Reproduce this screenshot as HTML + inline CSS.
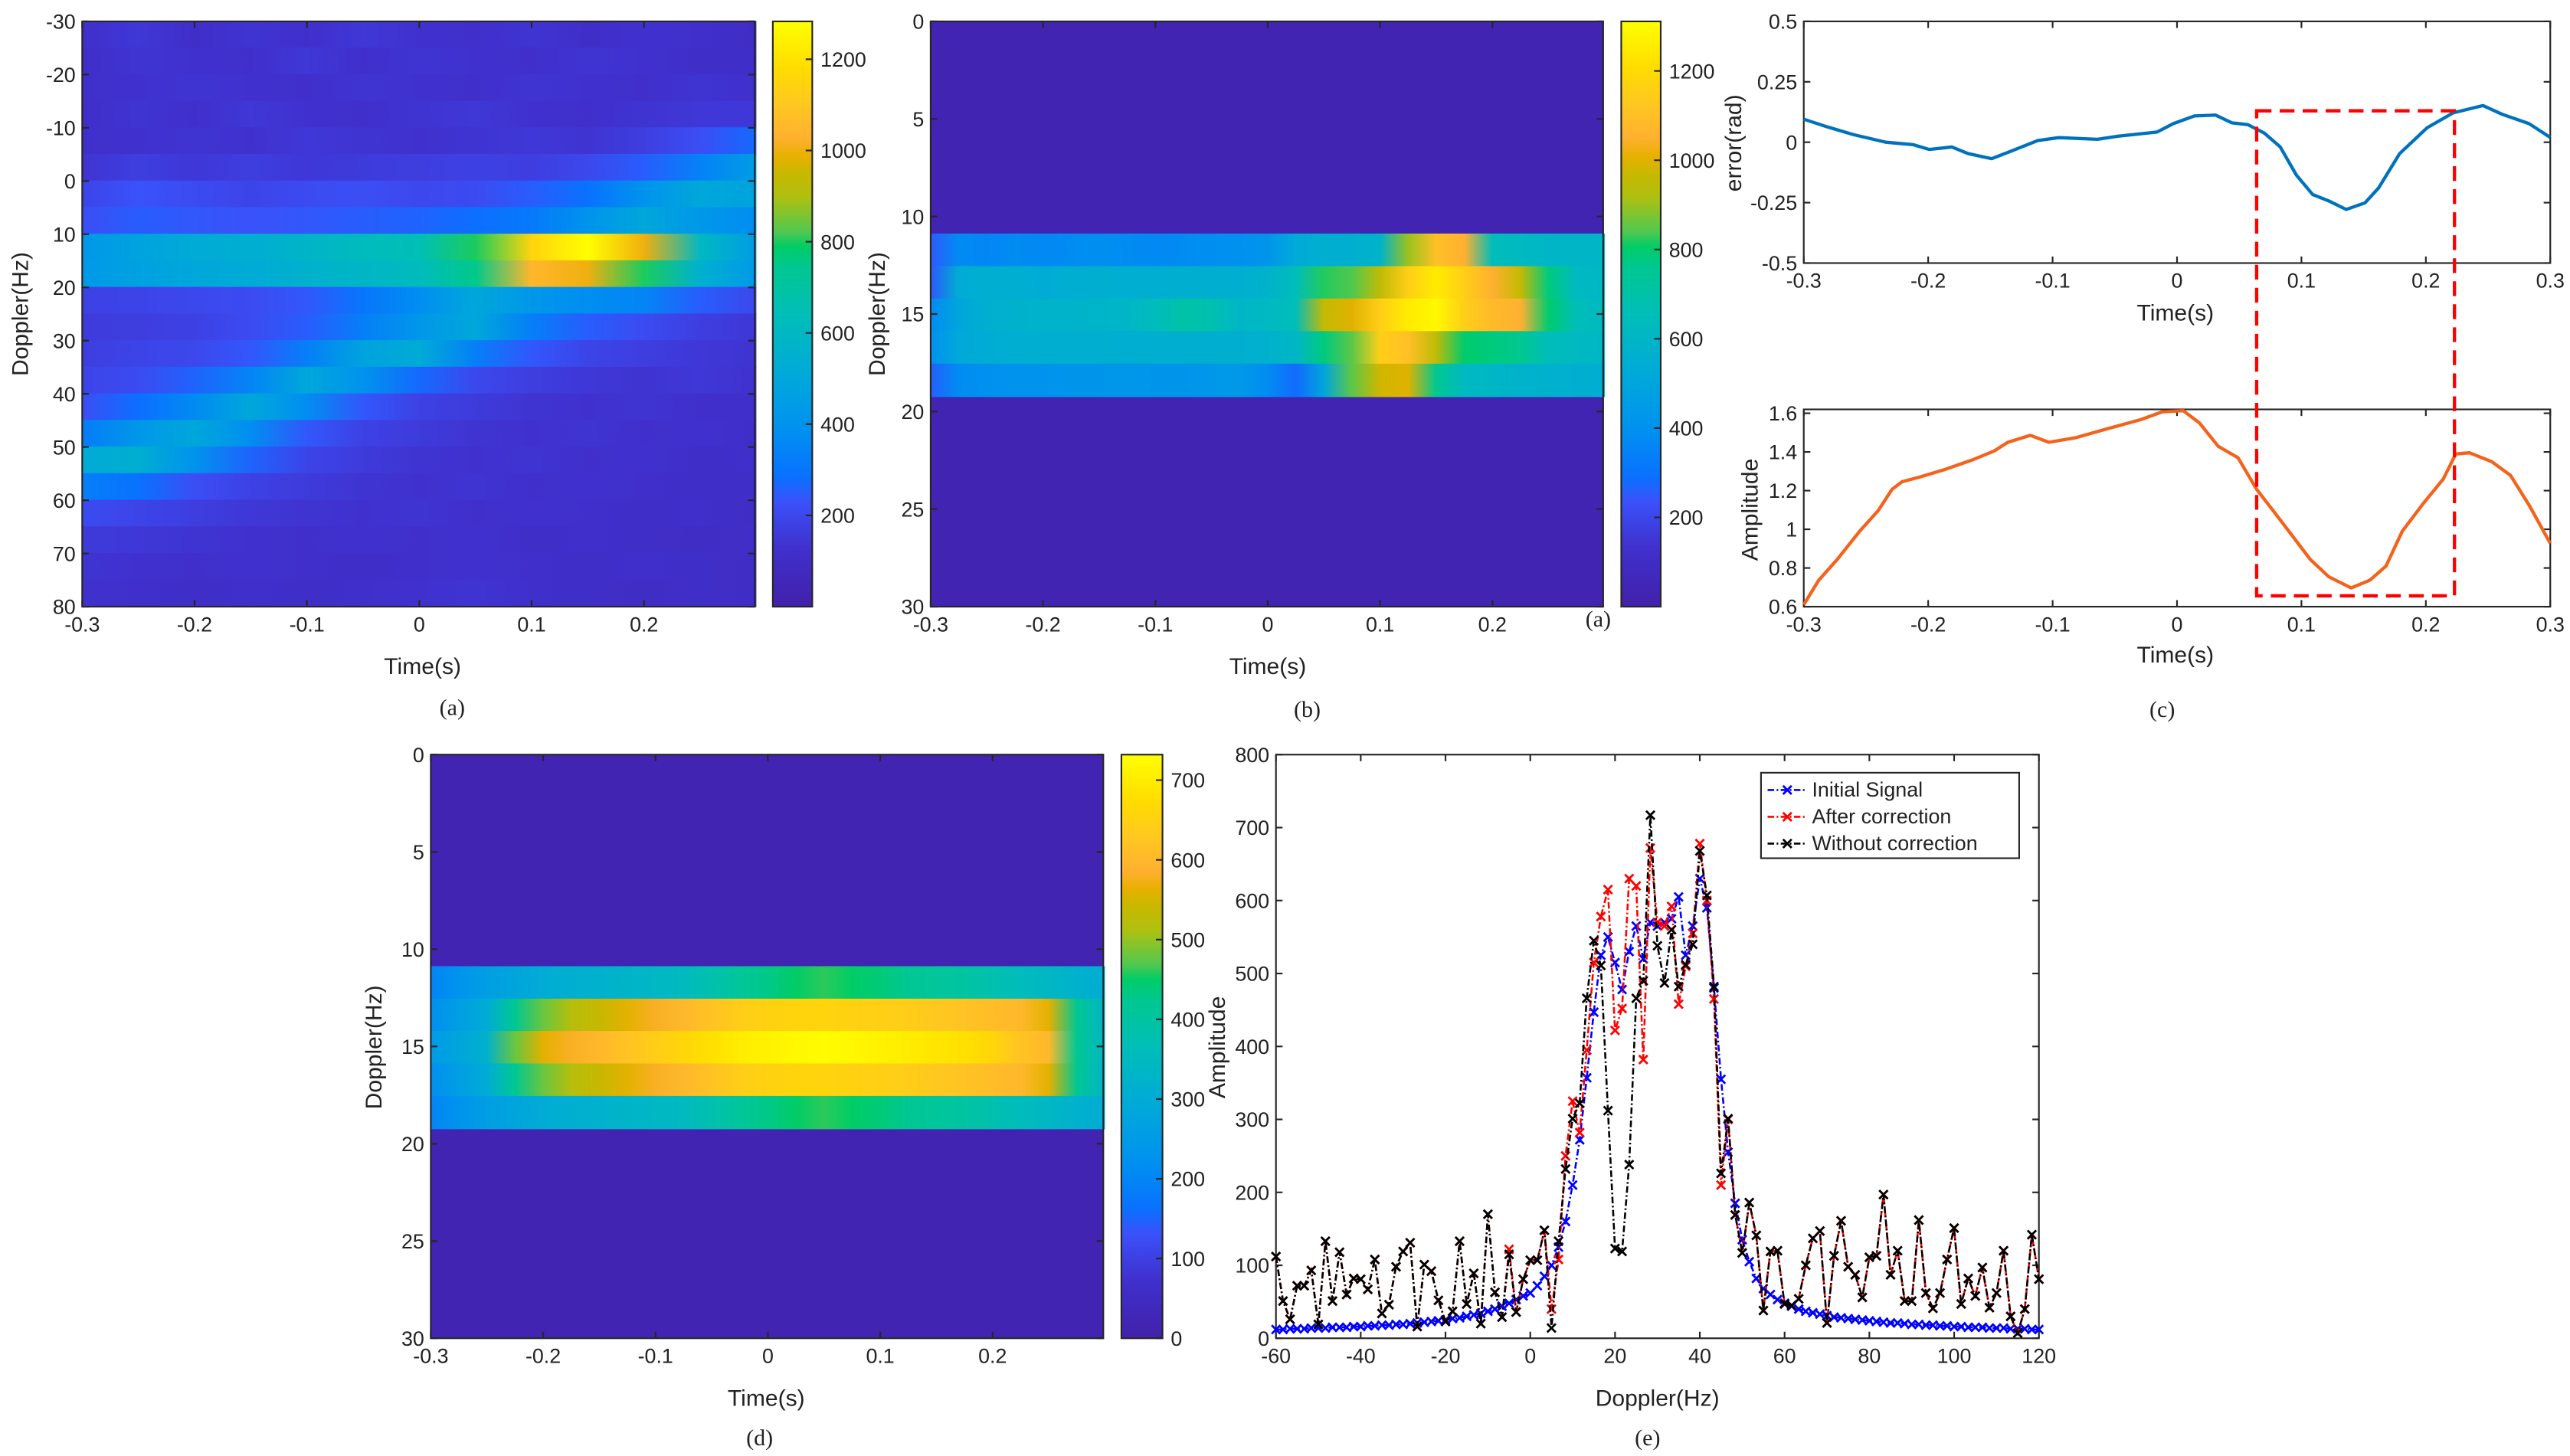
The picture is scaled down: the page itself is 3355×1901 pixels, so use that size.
<!DOCTYPE html>
<html><head><meta charset="utf-8">
<style>
html,body{margin:0;padding:0;background:#fff;}
svg{display:block;}
text{font-family:"Liberation Sans",Arial,sans-serif;fill:#222;}
.tk{font-size:12.5px;}
.lb{font-size:14px;}
.cap{font-family:"Liberation Serif","Times New Roman",serif;font-size:14px;}
</style></head>
<body>
<svg id="fig" xmlns="http://www.w3.org/2000/svg" width="3355" height="1901" viewBox="0 0 1563 885.6">
<rect x="0" y="0" width="1563" height="885.6" fill="#fff"/>
<defs id="defs"></defs>
</svg>
<script>
// ---------------- DATA ----------------
const aRowEdges = [-30,-25,-20,-15,-10,-5,0,5,10,15,20,25,30,35,40,45,50,55,60,65,70,75,80];
const aTimes = [-0.3,-0.25,-0.2,-0.15,-0.1,-0.05,0,0.05,0.1,0.15,0.2,0.25,0.3];
const aR0 = [120,150,110,140,120,150,130,120,140,110,130,120,100];
const aR1 = [110,140,130,120,150,120,140,130,120,140,130,110,110];
const aR2 = [120,130,140,130,120,140,130,120,140,130,120,140,120];
const aR3 = [110,140,120,150,130,120,140,150,130,120,140,150,150];
const aR4 = [120,130,140,130,150,140,130,140,150,140,170,220,270];
const aR5 = [140,170,150,170,150,160,170,180,170,200,250,340,450];
const aR6 = [190,230,210,190,210,220,200,210,250,290,400,500,480];
const aR7 = [220,250,240,230,240,250,260,280,310,400,500,420,380];
const aR8 = [420,480,520,540,580,620,650,800,1150,1280,1000,600,450];
const aR9 = [430,470,500,520,560,590,620,750,1050,1000,800,550,430];
const aR10 = [180,190,200,210,240,300,380,500,420,380,350,250,200];
const aR11 = [160,170,180,210,250,330,420,500,330,250,210,170,150];
const aR12 = [170,190,200,240,330,480,520,330,240,190,170,150,140];
const aR13 = [190,210,260,350,500,400,270,200,170,150,140,150,130];
const aR14 = [220,280,370,500,380,240,180,160,140,130,140,120,120];
const aR15 = [320,420,500,380,240,180,160,140,130,140,120,130,110];
const aR16 = [520,540,400,260,190,160,140,130,140,120,130,110,120];
const aR17 = [330,290,220,180,160,140,130,140,120,130,120,110,110];
const aR18 = [210,190,170,150,140,130,140,120,130,120,110,120,100];
const aR19 = [160,150,140,130,120,130,120,130,110,120,110,100,110];
const aR20 = [140,130,120,130,120,110,120,130,120,110,120,110,100];
const aR21 = [130,120,110,120,110,120,130,140,120,110,100,110,100];
const aRows = [aR0,aR1,aR2,aR3,aR4,aR5,aR6,aR7,aR8,aR9,aR10,aR11,aR12,aR13,aR14,aR15,aR16,aR17,aR18,aR19,aR20,aR21];
const aMax = 1283;

const bRowEdges = [10.9,12.57,14.23,15.9,17.57,19.23];
const bTimes = [-0.3,-0.275,-0.25,-0.225,-0.2,-0.175,-0.15,-0.125,-0.1,-0.075,-0.05,-0.025,0,0.025,0.05,0.075,0.1,0.125,0.15,0.175,0.2,0.225,0.25,0.275,0.3];
const bR1 = [250,380,360,380,370,380,390,380,370,380,390,400,420,530,560,560,580,900,1100,1050,650,620,600,600,600];
const bR2 = [250,540,550,550,540,550,560,550,550,560,560,560,580,650,820,840,950,1150,1250,1150,1050,960,780,620,600];
const bR3 = [380,500,560,570,580,580,590,600,640,700,680,600,620,650,960,1000,1150,1250,1290,1150,1080,1050,800,650,620];
const bR4 = [400,520,540,550,560,560,560,550,560,560,560,560,570,600,780,850,1150,1100,950,800,780,760,650,620,600];
const bR5 = [260,380,400,410,410,420,420,430,420,420,430,440,380,280,500,850,980,1000,760,620,600,580,570,560,550];
const bRows = [bR1,bR2,bR3,bR4,bR5];
const bMax = 1311;

const dRowEdges = [10.9,12.57,14.23,15.9,17.57,19.23];
const dTimes = bTimes;
const dR1 = [200,230,260,280,300,310,320,330,340,350,380,410,430,450,460,450,440,420,410,400,380,360,340,320,300];
const dR2 = [220,260,300,420,480,520,540,560,580,600,620,640,650,655,655,650,645,640,630,620,610,600,560,420,330];
const dR3 = [250,280,320,480,560,580,600,620,640,660,680,700,710,720,725,720,710,700,690,680,660,620,600,420,340];
const dR4 = [220,260,300,420,480,520,540,560,580,600,620,640,650,655,655,650,645,640,630,620,610,600,560,420,330];
const dR5 = [200,230,260,280,300,310,320,330,340,350,380,410,430,450,460,450,440,420,410,400,380,360,340,320,300];
const dRows = [dR1,dR2,dR3,dR4,dR5];
const dMax = 732;

const errT = [-0.3,-0.281,-0.26,-0.234,-0.212,-0.199,-0.181,-0.168,-0.149,-0.134,-0.112,-0.095,-0.064,-0.047,-0.016,-0.003,0.014,0.031,0.044,0.057,0.07,0.083,0.096,0.109,0.122,0.136,0.151,0.162,0.179,0.201,0.222,0.246,0.261,0.283,0.3];
const errV = [0.095,0.063,0.031,0.0,-0.01,-0.03,-0.02,-0.047,-0.068,-0.038,0.007,0.019,0.012,0.025,0.042,0.077,0.109,0.112,0.08,0.073,0.038,-0.02,-0.136,-0.216,-0.243,-0.278,-0.251,-0.189,-0.047,0.06,0.122,0.152,0.116,0.077,0.02];
const ampT = [-0.3,-0.288,-0.273,-0.255,-0.24,-0.229,-0.221,-0.207,-0.186,-0.164,-0.147,-0.136,-0.118,-0.103,-0.082,-0.056,-0.029,-0.012,0.005,0.018,0.033,0.049,0.064,0.077,0.092,0.107,0.122,0.14,0.155,0.168,0.181,0.198,0.214,0.224,0.235,0.253,0.268,0.283,0.3];
const ampV = [0.61,0.737,0.845,0.99,1.098,1.207,1.246,1.27,1.311,1.36,1.405,1.45,1.486,1.45,1.473,1.52,1.567,1.607,1.613,1.55,1.43,1.37,1.207,1.098,0.972,0.845,0.755,0.697,0.737,0.81,0.99,1.134,1.26,1.39,1.396,1.35,1.279,1.125,0.927];
const boxT = [0.064,0.223];
const boxErrTop = 0.13;
const boxAmpBottom = 0.656;

const doppler = Array.from({length:109},(_, i)=> -60 + i*180/108);
const initialSig = [12,12,13,13,13,14,14,14,15,15,15,16,16,17,17,18,18,19,19,20,21,22,23,24,25,27,28,30,32,34,37,40,44,48,53,58,62,72,85,100,125,160,210,272,357,447,525,550,515,478,530,565,520,570,565,570,575,605,525,565,630,590,480,355,255,185,135,105,82,68,60,53,48,44,40,37,35,33,31,29,28,27,26,25,24,23,22,21,21,20,19,19,18,18,17,17,16,16,15,15,15,14,14,14,13,13,13,12,12];
const withoutCorr = [112,51,26,72,72,93,19,133,51,118,60,82,81,67,108,34,46,98,119,131,16,101,92,52,23,37,133,47,89,20,170,63,29,115,36,81,107,107,148,14,133,232,301,322,466,545,511,312,123,119,238,466,490,717,538,487,560,482,512,540,668,607,482,226,301,169,117,186,141,38,119,120,47,45,54,100,137,147,21,113,161,98,87,56,111,113,197,87,120,51,51,162,62,41,62,108,151,47,82,58,97,42,62,120,30,7,40,142,81];
const afterCorr = [112,51,26,72,72,93,19,133,51,118,60,82,81,67,108,34,46,98,119,131,16,101,92,52,23,37,133,47,89,20,170,63,29,122,36,81,107,107,148,40,108,250,325,282,395,515,578,615,422,452,630,620,382,672,570,565,592,458,510,555,678,600,465,210,300,169,117,186,141,38,119,120,47,45,54,100,137,147,21,113,161,98,87,56,111,113,197,87,120,51,51,162,62,41,62,108,151,47,82,58,97,42,62,120,30,7,40,142,81];

// ---------------- HELPERS ----------------
const NS = 'http://www.w3.org/2000/svg';
const svg = document.getElementById('fig');
const defs = document.getElementById('defs');
function mk(tag, parent){ const e=document.createElementNS(NS,tag); (parent||svg).appendChild(e); return e; }
function lin(d0,d1,r0,r1){ return v => r0+(v-d0)/(d1-d0)*(r1-r0); }
const cmapStops = [
 [0.00,[65,33,170]],[0.10,[64,48,205]],[0.18,[58,82,250]],[0.22,[10,112,255]],
 [0.30,[0,144,240]],[0.40,[0,170,216]],[0.50,[0,190,184]],[0.58,[0,200,144]],
 [0.615,[0,204,102]],[0.64,[80,200,80]],[0.70,[176,192,16]],[0.74,[200,184,0]],
 [0.77,[232,176,0]],[0.80,[255,176,48]],[0.86,[255,200,32]],[0.92,[255,220,0]],[1.00,[255,255,0]]];
function cmap(f){
  f=Math.max(0,Math.min(1,f));
  for(let i=1;i<cmapStops.length;i++){
    if(f<=cmapStops[i][0]){
      const a=cmapStops[i-1],b=cmapStops[i],t=(f-a[0])/(b[0]-a[0]);
      const c=a[1].map((v,k)=>Math.round(v+(b[1][k]-v)*t));
      return 'rgb('+c.join(',')+')';
    }
  }
  return 'rgb(255,255,0)';
}
let gid=0;
function hGradient(xs, times, vals, max){
  const g=document.createElementNS(NS,'linearGradient'); defs.appendChild(g);
  const id='g'+(gid++); g.setAttribute('id',id);
  g.setAttribute('gradientUnits','userSpaceOnUse');
  g.setAttribute('x1',xs(times[0])); g.setAttribute('x2',xs(times[times.length-1]));
  g.setAttribute('y1',0); g.setAttribute('y2',0);
  times.forEach((t,i)=>{ const s=document.createElementNS(NS,'stop'); g.appendChild(s);
    s.setAttribute('offset',(i/(times.length-1)).toFixed(4)); s.setAttribute('stop-color',cmap(vals[i]/max)); });
  return 'url(#'+id+')';
}
function vGradient(){
  const g=document.createElementNS(NS,'linearGradient'); defs.appendChild(g);
  const id='g'+(gid++); g.setAttribute('id',id);
  g.setAttribute('x1',0); g.setAttribute('x2',0); g.setAttribute('y1',1); g.setAttribute('y2',0);
  cmapStops.forEach(s=>{ const st=document.createElementNS(NS,'stop'); g.appendChild(st);
    st.setAttribute('offset',s[0]); st.setAttribute('stop-color','rgb('+s[1].join(',')+')'); });
  return 'url(#'+id+')';
}
function txt(x,y,s,cls,anchor,name,parent){
  const t=mk('text',parent); t.setAttribute('x',x); t.setAttribute('y',y);
  t.setAttribute('class',cls); t.setAttribute('text-anchor',anchor||'middle');
  t.textContent=s;
  
  
  return t;
}
function line(x1,y1,x2,y2,stroke,w,parent){
  const l=mk('line',parent); l.setAttribute('x1',x1); l.setAttribute('y1',y1); l.setAttribute('x2',x2); l.setAttribute('y2',y2);
  l.setAttribute('stroke',stroke); l.setAttribute('stroke-width',w); return l;
}
function axes(g, L,R,T,B, xs, ys, xTicks, yTicks, xFmt, yFmt, pfx){
  const f=mk('rect',g); f.setAttribute('x',L); f.setAttribute('y',T); f.setAttribute('width',R-L); f.setAttribute('height',B-T);
  f.setAttribute('fill','none'); f.setAttribute('stroke','#262626'); f.setAttribute('stroke-width','1');
  
  
  const tl=4;
  xTicks.forEach(v=>{ const x=xs(v);
    line(x,B,x,B-tl,'#262626',1,g); line(x,T,x,T+tl,'#262626',1,g);
    txt(x,B+15,xFmt(v),'tk','middle',pfx+'-x-tick-label',g); });
  yTicks.forEach(v=>{ const y=ys(v);
    line(L,y,L+tl,y,'#262626',1,g); line(R,y,R-tl,y,'#262626',1,g);
    txt(L-4,y+4.5,yFmt(v),'tk','end',pfx+'-y-tick-label',g); });
}
function group(name){ const g=mk('g');   return g; }
function rotLabel(x,y,s,name,parent){
  const t=txt(x,y,s,'lb','middle',name,parent); t.setAttribute('transform','rotate(-90 '+x+' '+y+')'); return t;
}
function colorbar(g,L,R,T,B,max,ticks,pfx){
  const r=mk('rect',g); r.setAttribute('x',L); r.setAttribute('y',T); r.setAttribute('width',R-L); r.setAttribute('height',B-T);
  r.setAttribute('fill',vGradient()); r.setAttribute('stroke','#262626'); r.setAttribute('stroke-width','1');
  
  
  const cs=lin(0,max,B,T);
  ticks.forEach(v=>{ const y=cs(v); line(R,y,R-4,y,'#262626',1,g);
    txt(R+5,y+4.5,String(v),'tk','start',pfx+'-colorbar-tick-label',g); });
}
function heatmap(g, xs, ys, edges, times, rows, max, pfx){
  rows.forEach((vals,i)=>{
    const y0=ys(edges[i]), y1=ys(edges[i+1]);
    const r=mk('rect',g); r.setAttribute('x',xs(times[0])); r.setAttribute('width',xs(times[times.length-1])-xs(times[0]));
    r.setAttribute('y',Math.min(y0,y1)-0.3); r.setAttribute('height',Math.abs(y1-y0)+0.6);
    r.setAttribute('fill',hGradient(xs,times,vals,max));
    
    
  });
}
const bgDark = cmap(0.02);
const tFmt = v => v===0?'0':v.toFixed(1);

// ---------------- PANEL A ----------------
(function(){
  const g=group('panel-a');
  const L=50,R=459,T=13,B=369;
  const xs=lin(-0.3,0.3,L,R+1), ys=lin(-30,80,T,B);
  heatmap(g,xs,ys,aRowEdges,aTimes,aRows,aMax,'panel-a');
  axes(g,L,R,T,B,xs,ys,[-0.3,-0.2,-0.1,0,0.1,0.2],[-30,-20,-10,0,10,20,30,40,50,60,70,80],tFmt,v=>String(v),'panel-a');
  colorbar(g,470,494,13,369,aMax,[200,400,600,800,1000,1200],'panel-a');
  txt(257,410,'Time(s)','lb','middle','panel-a-x-axis-title',g);
  rotLabel(17,191,'Doppler(Hz)','panel-a-y-axis-title',g);
  txt(275,435,'(a)','cap','middle','panel-a-caption',g);
})();

// ---------------- PANEL B ----------------
(function(){
  const g=group('panel-b');
  const L=566,R=975,T=13,B=369;
  const xs=lin(-0.3,0.3,L,R+1), ys=lin(0,30,T,B);
  const bg=mk('rect',g); bg.setAttribute('x',L); bg.setAttribute('y',T); bg.setAttribute('width',R-L); bg.setAttribute('height',B-T); bg.setAttribute('fill',bgDark);
  
  
  heatmap(g,xs,ys,bRowEdges,bTimes,bRows,bMax,'panel-b');
  axes(g,L,R,T,B,xs,ys,[-0.3,-0.2,-0.1,0,0.1,0.2],[0,5,10,15,20,25,30],tFmt,v=>String(v),'panel-b');
  colorbar(g,986,1010,13,369,bMax,[200,400,600,800,1000,1200],'panel-b');
  txt(771,410,'Time(s)','lb','middle','panel-b-x-axis-title',g);
  rotLabel(538,191,'Doppler(Hz)','panel-b-y-axis-title',g);
  txt(795,436,'(b)','cap','middle','panel-b-caption',g);
  txt(972,381,'(a)','cap','middle','panel-b-stray-label',g);
})();

// ---------------- PANEL C ----------------
(function(){
  const g=group('panel-c');
  const L=1097,R=1551;
  const xs=lin(-0.3,0.3,L,R);
  const T1=13,B1=160, ys1=lin(-0.5,0.5,B1,T1);
  const T2=249,B2=369, ys2=lin(0.6,1.62,B2,T2);
  axes(g,L,R,T1,B1,xs,ys1,[-0.3,-0.2,-0.1,0,0.1,0.2,0.3],[-0.5,-0.25,0,0.25,0.5],tFmt,v=>v===0?'0':String(v),'panel-c-top');
  axes(g,L,R,T2,B2,xs,ys2,[-0.3,-0.2,-0.1,0,0.1,0.2,0.3],[0.6,0.8,1,1.2,1.4,1.6],tFmt,v=>String(Math.round(v*10)/10),'panel-c-bottom');
  const p1=mk('polyline',g); p1.setAttribute('points',errT.map((t,i)=>xs(t).toFixed(1)+','+ys1(errV[i]).toFixed(1)).join(' '));
  p1.setAttribute('fill','none'); p1.setAttribute('stroke','#0072bd'); p1.setAttribute('stroke-width','2'); p1.setAttribute('stroke-linejoin','round');
  
  
  const p2=mk('polyline',g); p2.setAttribute('points',ampT.map((t,i)=>xs(t).toFixed(1)+','+ys2(ampV[i]).toFixed(1)).join(' '));
  p2.setAttribute('fill','none'); p2.setAttribute('stroke','#f4621c'); p2.setAttribute('stroke-width','2'); p2.setAttribute('stroke-linejoin','round');
  
  
  const rb=mk('rect',g); const x0=xs(boxT[0]), x1=xs(boxT[1]), y0=ys1(boxErrTop), y1=ys2(boxAmpBottom);
  rb.setAttribute('x',x0); rb.setAttribute('y',y0); rb.setAttribute('width',x1-x0); rb.setAttribute('height',y1-y0);
  rb.setAttribute('fill','none'); rb.setAttribute('stroke','#ff0000'); rb.setAttribute('stroke-width','2'); rb.setAttribute('stroke-dasharray','9,5');
  
  
  txt(1323,195,'Time(s)','lb','middle','panel-c-top-x-axis-title',g);
  rotLabel(1059,87,'error(rad)','panel-c-top-y-axis-title',g);
  txt(1323,403,'Time(s)','lb','middle','panel-c-bottom-x-axis-title',g);
  rotLabel(1069,310,'Amplitude','panel-c-bottom-y-axis-title',g);
  txt(1315,436,'(c)','cap','middle','panel-c-caption',g);
})();

// ---------------- PANEL D ----------------
(function(){
  const g=group('panel-d');
  const L=262,R=671,T=459,B=814;
  const xs=lin(-0.3,0.3,L,R+1), ys=lin(0,30,T,B);
  const bg=mk('rect',g); bg.setAttribute('x',L); bg.setAttribute('y',T); bg.setAttribute('width',R-L); bg.setAttribute('height',B-T); bg.setAttribute('fill',bgDark);
  
  
  heatmap(g,xs,ys,dRowEdges,dTimes,dRows,dMax,'panel-d');
  axes(g,L,R,T,B,xs,ys,[-0.3,-0.2,-0.1,0,0.1,0.2],[0,5,10,15,20,25,30],tFmt,v=>String(v),'panel-d');
  colorbar(g,682,707,459,814,dMax,[0,100,200,300,400,500,600,700],'panel-d');
  txt(466,855,'Time(s)','lb','middle','panel-d-x-axis-title',g);
  rotLabel(232,637,'Doppler(Hz)','panel-d-y-axis-title',g);
  txt(462,879,'(d)','cap','middle','panel-d-caption',g);
})();

// ---------------- PANEL E ----------------
(function(){
  const g=group('panel-e');
  const L=776,R=1240,T=459,B=814;
  const xs=lin(-60,120,L,R), ys=lin(0,800,B,T);
  const f=mk('rect',g); f.setAttribute('x',L); f.setAttribute('y',T); f.setAttribute('width',R-L); f.setAttribute('height',B-T); f.setAttribute('fill','#fff');
  axes(g,L,R,T,B,xs,ys,[-60,-40,-20,0,20,40,60,80,100,120],[0,100,200,300,400,500,600,700,800],v=>String(v),v=>String(v),'panel-e');
  function series(vals,color,name){
    const sg=mk('g',g);
    
    
    const p=mk('polyline',sg); p.setAttribute('points',doppler.map((x,i)=>xs(x).toFixed(1)+','+ys(vals[i]).toFixed(1)).join(' '));
    p.setAttribute('fill','none'); p.setAttribute('stroke',color); p.setAttribute('stroke-width','1.2'); p.setAttribute('stroke-dasharray','4,1.5,1,1.5');
    const s=2.6;
    doppler.forEach((x,i)=>{ const cx=xs(x), cy=ys(vals[i]);
      const m=mk('path',sg); m.setAttribute('d','M'+(cx-s)+','+(cy-s)+'L'+(cx+s)+','+(cy+s)+'M'+(cx-s)+','+(cy+s)+'L'+(cx+s)+','+(cy-s));
      m.setAttribute('stroke',color); m.setAttribute('stroke-width','1.3'); m.setAttribute('fill','none'); });
  }
  series(initialSig,'#0000ff','initial-signal-series');
  series(afterCorr,'#ff0000','after-correction-series');
  series(withoutCorr,'#000000','without-correction-series');
  const lg=mk('g',g);
  
  
  const lb=mk('rect',lg); lb.setAttribute('x',1071); lb.setAttribute('y',470); lb.setAttribute('width',157); lb.setAttribute('height',52);
  lb.setAttribute('fill','#fff'); lb.setAttribute('stroke','#262626'); lb.setAttribute('stroke-width','1');
  const names=['Initial Signal','After correction','Without correction'], cols=['#0000ff','#ff0000','#000000'];
  names.forEach((n,i)=>{ const y=480.5+i*16.3;
    const l=line(1075,y,1099,y,cols[i],1.2,lg); l.setAttribute('stroke-dasharray','4,1.5,1,1.5');
    const m=mk('path',lg); m.setAttribute('d','M1084.4,'+(y-2.6)+'L1089.6,'+(y+2.6)+'M1084.4,'+(y+2.6)+'L1089.6,'+(y-2.6));
    m.setAttribute('stroke',cols[i]); m.setAttribute('stroke-width','1.3');
    txt(1102,y+4,n,'tk','start','legend-entry',lg); });
  txt(1008,855,'Doppler(Hz)','lb','middle','panel-e-x-axis-title',g);
  rotLabel(745,637,'Amplitude','panel-e-y-axis-title',g);
  txt(1002,879,'(e)','cap','middle','panel-e-caption',g);
})();
</script>
</body></html>
